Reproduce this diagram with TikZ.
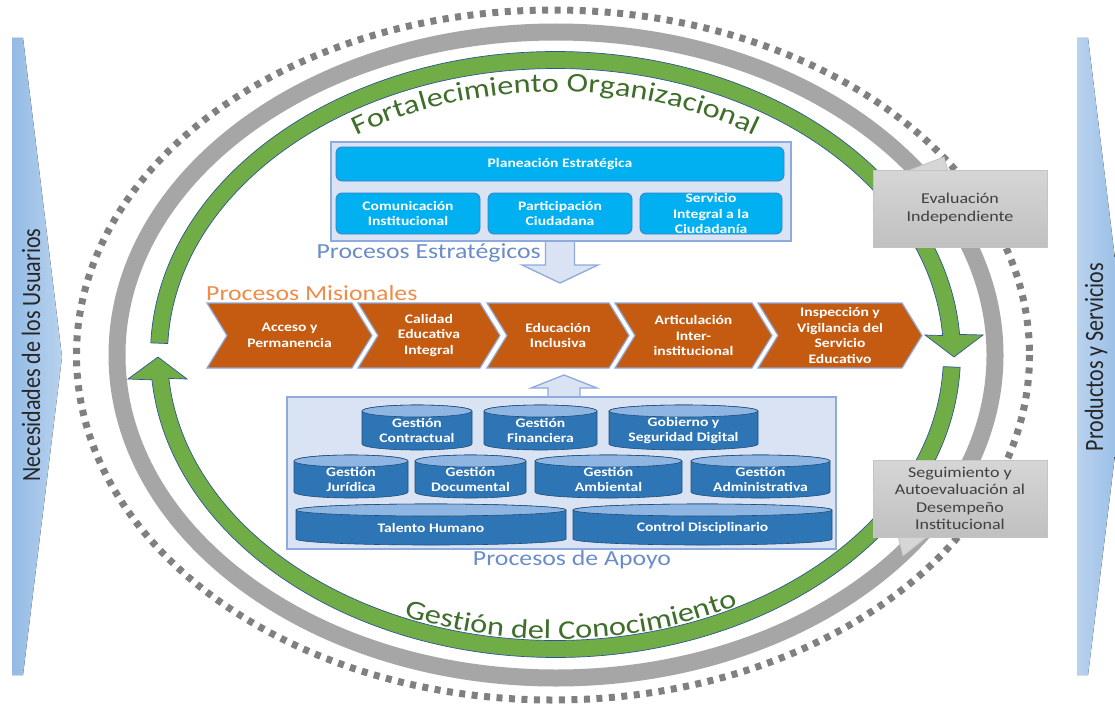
\documentclass[tikz,border=0pt]{standalone}
\usepackage{fontspec}
\setmainfont{Carlito}[FakeStretch=1.2]
\newfontfamily\plainfont{Carlito}
\usetikzlibrary{decorations.text,calc}
\definecolor{panelfill}{HTML}{DAE3F3}
\definecolor{panelline}{HTML}{8FAADC}
\definecolor{cyanfill}{HTML}{00B0F0}
\definecolor{cyanline}{HTML}{3C7DC4}
\definecolor{chevfill}{HTML}{C55A11}
\definecolor{chevline}{HTML}{8EA9DB}
\definecolor{cylbody}{HTML}{2E75B6}
\definecolor{cyltopc}{HTML}{8FB6E2}
\definecolor{cylline}{HTML}{1F4E79}
\definecolor{ringgreen}{HTML}{70AD47}
\definecolor{ringline}{HTML}{2F5597}
\definecolor{ringgray}{HTML}{A6A6A6}
\definecolor{dotgray}{HTML}{808080}
\definecolor{sideblue}{HTML}{93BBE5}
\definecolor{sidelight}{HTML}{B9D2EE}
\definecolor{labelblue}{HTML}{6A8CCB}
\definecolor{labelorange}{HTML}{EE8C4A}
\definecolor{greentext}{HTML}{3F6E2B}
\definecolor{boxgraytop}{HTML}{D6D6D6}
\definecolor{boxgraybot}{HTML}{C0C0C0}
\definecolor{boxline}{HTML}{C4C4C4}
\definecolor{boxtext}{HTML}{404040}
\definecolor{sidetextc}{HTML}{262626}
\newcommand\whitefont{\bfseries\fontsize{13}{15.5}\selectfont}
\newcommand\labelfont{\fontsize{21.5}{24}\selectfont}
\newcommand\ringfont{\fontsize{27}{27}\selectfont\color{greentext}}
\newcommand\cylbox[6]{%
  \pgfmathsetmacro\cylcx{(#2+#3)/2}%
  \pgfmathsetmacro\cylrx{(#3-#2)/2}%
  \pgfmathsetmacro\cylcy{(#4+#5)/2+3}%
  \draw[cylside] (#2,#4+6) -- (#2,#5-6) arc[start angle=180,end angle=0,x radius=\cylrx,y radius=6] -- (#3,#4+6) arc[start angle=0,end angle=-180,x radius=\cylrx,y radius=6] -- cycle;
  \draw[cylcap] (\cylcx,#4+6) ellipse[x radius=\cylrx,y radius=6];
  \node[whitetext] (#1) at (\cylcx,\cylcy) {#6};
}
\newcommand\chevbox[4]{%
  \draw[chevron] (#2,303) -- (#3,303) -- (#3+20,335.5) -- (#3,368) -- (#2,368) -- (#2+20,335.5) -- cycle;
  \node[whitetext] (#1) at ({(#2+#3+20)/2},335.5) {#4};
}
\begin{document}
\begin{tikzpicture}[x=1pt,y=-1pt,
  panel/.style={fill=panelfill,draw=panelline,line width=1.3pt},
  cyanbox/.style={rounded corners=6pt,fill=cyanfill,draw=cyanline,line width=0.8pt,
    inner sep=0pt,text=white,font=\whitefont,align=center},
  whitetext/.style={text=white,font=\whitefont,align=center,inner sep=0pt},
  chevron/.style={fill=chevfill,draw=chevline,line width=1.2pt,line join=miter},
  cylside/.style={fill=cylbody,draw=cylline,line width=0.6pt},
  cylcap/.style={fill=cyltopc,draw=cylline,line width=0.6pt},
  blockarrow/.style={fill=panelfill,draw=panelline,line width=1.3pt,line join=miter},
  greenarrow/.style={fill=ringgreen,draw=ringline,line width=0.7pt,line join=miter},
  graybox/.style={top color=boxgraytop,bottom color=boxgraybot,draw=boxline,line width=0.8pt,
    inner sep=0pt,text=boxtext,font=\fontsize{15}{17.5}\selectfont,align=center},
  pointer/.style={fill=boxgraytop,draw=boxline,line width=0.8pt},
  sidelabel/.style={rotate=90,text=sidetextc,inner sep=0pt,font=\plainfont\fontsize{22}{24}\selectfont},
  proclabel/.style={inner sep=0pt,font=\labelfont}
]
\useasboundingbox (0,0) rectangle (1115,706);
\fill[white] (0,0) rectangle (1115,706);

% outer dotted ring and gray ring
\draw[dotgray,line width=7pt,dash pattern=on 6pt off 6.5pt] (553,355) ellipse[x radius=476.5,y radius=345];
\draw[ringgray,line width=17pt] (556,355) ellipse[x radius=439,y radius=323];

% green ring (two arrows)
\coordinate (G) at (555.5,354.5);
\draw[greenarrow] ($(G)+(182.2:405 and 303)$) arc[start angle=182.2,end angle=356.2,x radius=405,y radius=303]
  -- (983,335) -- (954,357) -- (925,335)
  -- ($(G)+(356.2:388 and 286)$) arc[start angle=356.2,end angle=182.2,x radius=388,y radius=286] -- cycle;
\draw[greenarrow] ($(G)+(2.43:405 and 303)$) arc[start angle=2.43,end angle=175.2,x radius=405,y radius=303]
  -- (128,379) -- (158,357) -- (187,379)
  -- ($(G)+(175.2:388 and 286)$) arc[start angle=175.2,end angle=2.43,x radius=388,y radius=286] -- cycle;

% curved texts
\path[decorate,decoration={text along path,text align=center,
  text={|\ringfont|Fortalecimiento Organizacional}}]
  ($(G)+(195:361 and 262.5)$) arc[start angle=195,end angle=345,x radius=361,y radius=262.5];
\path[decorate,decoration={text along path,text align=center,
  text={|\ringfont|Gestión del Conocimiento}}]
  ($(G)+(147:386 and 284.5)$) arc[start angle=147,end angle=27,x radius=386,y radius=284.5];

% side arrows
\fill[left color=sideblue,right color=sidelight] (12,38) -- (23,38) -- (62,357) -- (23,675) -- (12,675) -- cycle;
\node[sidelabel] (need) at (31,355) {\scalebox{1}[1.2]{Necesidades de los Usuarios}};
\fill[left color=sidelight,right color=sideblue] (1077,38) -- (1088,38) -- (1127,357) -- (1088,675) -- (1077,675) -- cycle;
\node[sidelabel] (prod) at (1096,357) {\scalebox{1}[1.2]{Productos y Servicios}};

% strategic processes
\node[panel,minimum width=460pt,minimum height=99pt,inner sep=0pt] (stratpanel) at (561,191.5) {};
\node[cyanbox,minimum width=448pt,minimum height=34pt] (plan) at (560,164) {Planeación Estratégica};
\node[cyanbox,minimum width=144pt,minimum height=41pt] (comu) at (408,213.5) {Comunicación\\Institucional};
\node[cyanbox,minimum width=144pt,minimum height=41pt] (part) at (560,213.5) {Participación\\Ciudadana};
\node[cyanbox,minimum width=142pt,minimum height=41pt] (serv) at (711,213.5) {Servicio\\Integral a la\\Ciudadanía};
\node[proclabel,text=labelblue,anchor=east] (estlabel) at (541,253) {Procesos Estratégicos};
\draw[blockarrow] (545.5,242) -- (545.5,265) -- (522,265) -- (560,283) -- (598,265) -- (574.5,265) -- (574.5,242);

% missional processes
\node[proclabel,text=labelorange,anchor=west] (mislabel) at (206,293) {Procesos Misionales};
\chevbox{acc}{207}{352}{Acceso y\\Permanencia}
\chevbox{cal}{358}{480}{Calidad\\Educativa\\Integral}
\chevbox{edu}{487}{609}{Educación\\Inclusiva}
\chevbox{art}{615}{752}{Articulación\\Inter-\\institucional}
\chevbox{ins}{758}{902}{Inspección y\\Vigilancia del\\Servicio\\Educativo}

% support processes
\draw[blockarrow] (548,397) -- (548,388) -- (531,388) -- (564,375) -- (597,388) -- (580,388) -- (580,397);
\node[panel,minimum width=549pt,minimum height=152pt,inner sep=0pt] (suppanel) at (561.5,473) {};
\cylbox{contr}{362}{472}{405}{450}{Gestión\\Contractual}
\cylbox{fin}{484}{597}{405}{450}{Gestión\\Financiera}
\cylbox{gob}{609}{758}{405}{450}{Gobierno y\\Seguridad Digital}
\cylbox{jur}{294}{408}{455}{498}{Gestión\\Jurídica}
\cylbox{doc}{415}{526}{455}{498}{Gestión\\Documental}
\cylbox{amb}{535}{682}{455}{498}{Gestión\\Ambiental}
\cylbox{adm}{691}{830}{455}{498}{Gestión\\Administrativa}
\cylbox{tal}{296}{566}{504}{545}{Talento Humano}
\cylbox{cont}{573}{832}{504}{545}{Control Disciplinario}
\node[proclabel,text=labelblue] (aplabel) at (572,560) {Procesos de Apoyo};

% evaluation boxes
\draw[pointer] (907,171) -- (944,157) -- (948,171) -- cycle;
\node[graybox,minimum width=174pt,minimum height=77pt] (eval) at (960,208.5) {Evaluación\\Independiente};
\draw[pointer] (898,536) -- (903,556) -- (928,536) -- cycle;
\node[graybox,minimum width=174pt,minimum height=77pt] (seg) at (960,498.5) {Seguimiento y\\Autoevaluación al\\Desempeño\\Institucional};
\end{tikzpicture}
\end{document}
